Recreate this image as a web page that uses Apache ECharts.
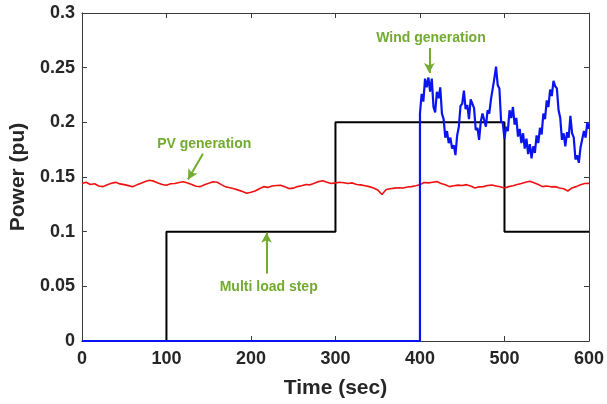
<!DOCTYPE html>
<html>
<head>
<meta charset="utf-8">
<script src="https://cdn.jsdelivr.net/npm/echarts@6/dist/echarts.min.js"></script>
<style>
  html, body { margin: 0; padding: 0; background: #fff; }
  #chart { width: 607px; height: 404px; }
</style>
</head>
<body>
<div id="chart"></div>
<script>
// Multi load step demand (pu), piecewise constant from each switching time
const loadTime = [0, 100, 300, 500, 600];
const loadPower = [0, 0.1, 0.2, 0.1, 0.1];

// PV generation (pu), sampled every 5 s from 0 to 600 s
const pvStart = 0, pvStep = 5;
const pvPower = [
  0.1440, 0.1452, 0.1431, 0.1438, 0.1418, 0.1412, 0.1430, 0.1442, 0.1451, 0.1437,
  0.1430, 0.1421, 0.1410, 0.1428, 0.1442, 0.1458, 0.1470, 0.1462, 0.1446, 0.1432,
  0.1425, 0.1438, 0.1441, 0.1450, 0.1456, 0.1446, 0.1432, 0.1415, 0.1412, 0.1430,
  0.1442, 0.1456, 0.1452, 0.1430, 0.1410, 0.1402, 0.1392, 0.1380, 0.1368, 0.1352,
  0.1360, 0.1372, 0.1392, 0.1412, 0.1405, 0.1418, 0.1422, 0.1425, 0.1410, 0.1394,
  0.1398, 0.1412, 0.1420, 0.1432, 0.1428, 0.1442, 0.1458, 0.1465, 0.1452, 0.1440,
  0.1446, 0.1452, 0.1448, 0.1440, 0.1446, 0.1432, 0.1428, 0.1420, 0.1412, 0.1400,
  0.1382, 0.1340, 0.1385, 0.1392, 0.1398, 0.1402, 0.1400, 0.1408, 0.1412, 0.1420,
  0.1430, 0.1450, 0.1446, 0.1452, 0.1458, 0.1440, 0.1430, 0.1412, 0.1420, 0.1426,
  0.1422, 0.1430, 0.1418, 0.1400, 0.1410, 0.1412, 0.1422, 0.1426, 0.1418, 0.1410,
  0.1400, 0.1412, 0.1420, 0.1432, 0.1440, 0.1452, 0.1462, 0.1448, 0.1432, 0.1412,
  0.1418, 0.1410, 0.1412, 0.1400, 0.1392, 0.1372, 0.1400, 0.1412, 0.1430, 0.1440,
  0.1442
];

// Wind generation (pu): idle until the turbine connects at 400 s
const windIdleTime = [0, 400];
const windIdlePower = [0, 0];
// then sampled every 2 s from 400 to 600 s
const windStart = 400, windStep = 2;
const windPower = [
  0.208, 0.226, 0.219, 0.240, 0.232, 0.241, 0.228, 0.240, 0.214, 0.209,
  0.228, 0.222, 0.232, 0.208, 0.203, 0.186, 0.192, 0.181, 0.186, 0.176,
  0.179, 0.170, 0.188, 0.196, 0.215, 0.217, 0.229, 0.212, 0.216, 0.203,
  0.221, 0.217, 0.213, 0.193, 0.195, 0.184, 0.201, 0.208, 0.209, 0.196,
  0.211, 0.208, 0.221, 0.222, 0.240, 0.251, 0.234, 0.231, 0.201, 0.199,
  0.185, 0.196, 0.192, 0.211, 0.204, 0.214, 0.198, 0.204, 0.187, 0.194,
  0.181, 0.190, 0.176, 0.185, 0.171, 0.180, 0.167, 0.178, 0.172, 0.188,
  0.181, 0.195, 0.189, 0.208, 0.203, 0.220, 0.214, 0.230, 0.224, 0.238,
  0.233, 0.231, 0.211, 0.204, 0.184, 0.190, 0.178, 0.191, 0.186, 0.206,
  0.190, 0.186, 0.166, 0.170, 0.163, 0.177, 0.176, 0.192, 0.186, 0.200,
  0.194
];

// Axis ranges and tick labels
const timeTicks = [0, 100, 200, 300, 400, 500, 600];
const powerTicks = [0, 0.05, 0.1, 0.15, 0.2, 0.25, 0.3];

// Annotations: label text, label anchor, arrow tail and arrow tip (data units)
const noteText = ['Wind generation', 'PV generation', 'Multi load step'];
const noteAt = [[413, 0.277], [144.7, 0.1800], [221, 0.0496]];
const arrowFrom = [[411, 0.2679], [143.2, 0.1712], [218.5, 0.0617]];
const arrowTo = [[411, 0.2451], [125.5, 0.1478], [218.5, 0.0991]];

const FONT = '"Liberation Sans", Arial, Helvetica, sans-serif';
const INK = '#262626';
const FRAME = '#3a3a3a';
const NOTE = '#72ab2f';

const pvData = pvPower.map((v, i) => [pvStart + i * pvStep, v]);
const windData = windIdleTime.map((t, i) => [t, windIdlePower[i]])
  .concat(windPower.map((v, i) => [windStart + i * windStep, v]));
const loadData = loadTime.map((t, i) => [t, loadPower[i]]);

const xMin = timeTicks[0], xMax = timeTicks[timeTicks.length - 1];
const yMin = powerTicks[0], yMax = powerTicks[powerTicks.length - 1];

function axisBase(min, max, interval) {
  return {
    type: 'value', min: min, max: max, interval: interval,
    splitLine: { show: false },
    axisLine: { show: true, onZero: false, lineStyle: { color: FRAME, width: 1 } },
    axisTick: { show: true, inside: true, length: 5, lineStyle: { color: FRAME, width: 1 } }
  };
}

const chart = echarts.init(document.getElementById('chart'), null, { renderer: 'canvas' });

chart.setOption({
  animation: false,
  backgroundColor: '#ffffff',
  grid: { left: 80, right: 17, top: 13, bottom: 62, containLabel: false },
  xAxis: [
    Object.assign(axisBase(xMin, xMax, 100), {
      position: 'bottom',
      name: 'Time (sec)', nameLocation: 'middle', nameGap: 37,
      nameTextStyle: { fontFamily: FONT, fontWeight: 'bold', fontSize: 21, color: INK },
      axisLabel: {
        margin: 9, fontFamily: FONT, fontWeight: 'bold', fontSize: 18, color: INK,
        formatter: v => String(v)
      }
    }),
    Object.assign(axisBase(xMin, xMax, 100), { position: 'top', axisLabel: { show: false } })
  ],
  yAxis: [
    Object.assign(axisBase(yMin, yMax, 0.05), {
      position: 'left',
      name: 'Power (pu)', nameLocation: 'middle', nameGap: 44,
      nameTextStyle: { fontFamily: FONT, fontWeight: 'bold', fontSize: 21, color: INK },
      axisLabel: {
        margin: 7, fontFamily: FONT, fontWeight: 'bold', fontSize: 18, color: INK,
        formatter: v => String(Math.round(v * 100) / 100)
      }
    }),
    Object.assign(axisBase(yMin, yMax, 0.05), { position: 'right', axisLabel: { show: false } })
  ],
  series: [
    {
      name: 'Multi load step', type: 'line', step: 'end', data: loadData,
      showSymbol: false, silent: true, z: 2,
      lineStyle: { color: '#000000', width: 2 }
    },
    {
      name: 'PV generation', type: 'line', data: pvData,
      showSymbol: false, silent: true, z: 3,
      lineStyle: { color: '#ee1111', width: 1.6 }
    },
    {
      name: 'Wind generation', type: 'line', data: windData,
      showSymbol: false, silent: true, z: 4,
      lineStyle: { color: '#0a14f0', width: 2.2 },
      markLine: {
        silent: true, symbol: ['none', 'arrow'], symbolSize: [8, 10],
        label: { show: false },
        lineStyle: { color: NOTE, width: 2, type: 'solid' },
        emphasis: { disabled: true },
        data: arrowFrom.map((p, i) => [{ coord: p }, { coord: arrowTo[i] }])
      },
      markPoint: {
        silent: true, symbol: 'circle', symbolSize: 0,
        label: {
          show: true, position: 'inside', fontFamily: FONT, fontWeight: 'bold',
          fontSize: 14, color: NOTE, formatter: p => p.name
        },
        data: noteText.map((t, i) => ({ name: t, coord: noteAt[i] }))
      }
    }
  ]
});
</script>
</body>
</html>
